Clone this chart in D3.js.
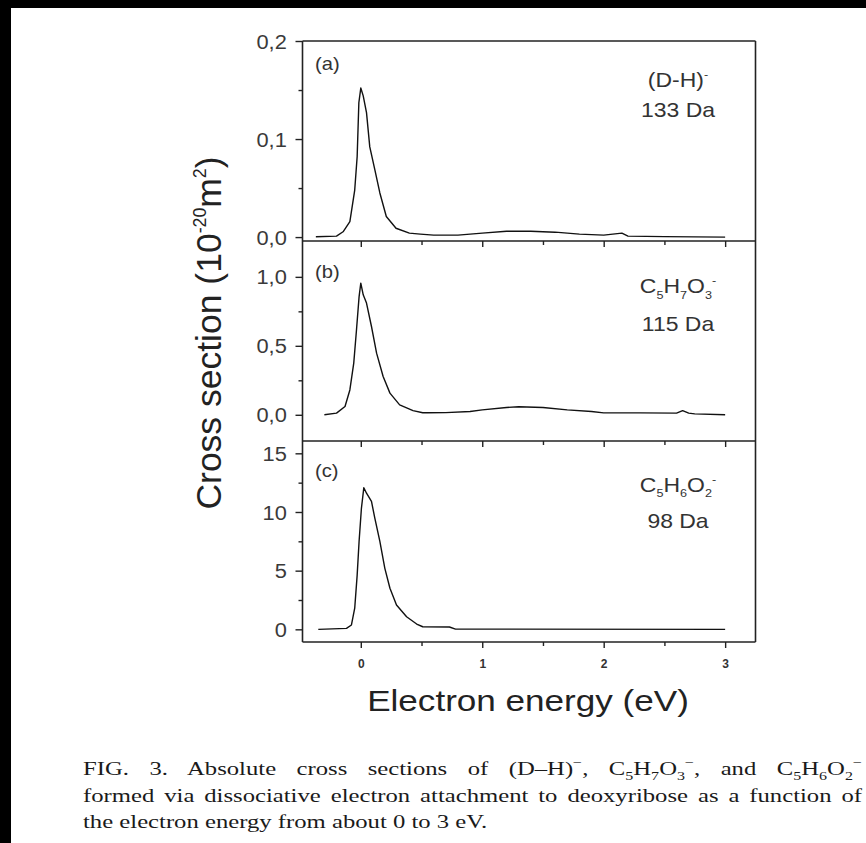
<!DOCTYPE html>
<html>
<head>
<meta charset="utf-8">
<script src="https://cdn.jsdelivr.net/npm/d3@7/dist/d3.min.js"></script>
<style>
  html, body { margin: 0; padding: 0; background: #fff; }
  svg { display: block; }
</style>
</head>
<body>
<svg id="fig" width="866" height="843"></svg>
<script>
// ---- Data: absolute DEA cross sections vs electron energy (eV) ----
// (a) (D-H)-, 133 Da  [10^-20 m^2]
const energyA = [-0.37, -0.2, -0.146, -0.09, -0.05, -0.03, -0.016, 0, 0.02, 0.047, 0.074, 0.115, 0.157, 0.21, 0.29, 0.40, 0.49, 0.6, 0.8, 1.0, 1.2, 1.4, 1.6, 1.8, 2.0, 2.15, 2.2, 2.5, 3.0];
const crossA  = [0.0003, 0.001, 0.0054, 0.0157, 0.048, 0.082, 0.137, 0.152, 0.144, 0.127, 0.092, 0.069, 0.045, 0.021, 0.009, 0.004, 0.003, 0.002, 0.002, 0.004, 0.006, 0.006, 0.005, 0.003, 0.002, 0.004, 0.001, 0.0005, 0];
// (b) C5H7O3-, 115 Da
const energyB = [-0.30, -0.2, -0.13, -0.09, -0.058, -0.035, -0.014, 0, 0.02, 0.047, 0.088, 0.13, 0.184, 0.24, 0.32, 0.43, 0.51, 0.55, 0.7, 0.9, 1.0, 1.2, 1.3, 1.5, 1.7, 1.9, 2.0, 2.3, 2.6, 2.65, 2.7, 2.75, 3.0];
const crossB  = [0, 0.012, 0.06, 0.18, 0.375, 0.62, 0.857, 0.954, 0.87, 0.81, 0.64, 0.447, 0.278, 0.157, 0.072, 0.03, 0.015, 0.015, 0.016, 0.024, 0.036, 0.053, 0.058, 0.053, 0.036, 0.024, 0.014, 0.014, 0.012, 0.03, 0.012, 0.007, 0];
// (c) C5H6O2-, 98 Da
const energyC = [-0.35, -0.118, -0.077, -0.05, -0.03, -0.014, 0.005, 0.025, 0.047, 0.088, 0.115, 0.157, 0.198, 0.24, 0.294, 0.377, 0.46, 0.51, 0.73, 0.78, 3.0];
const crossC  = [0, 0.08, 0.37, 1.8, 4.6, 7.5, 10.3, 12.07, 11.6, 10.9, 9.5, 7.5, 5.2, 3.5, 2.07, 1.07, 0.45, 0.22, 0.2, 0.02, 0];

// Axis ticks
const xMajorTicks = [0, 1, 2, 3];
const xMinorTicks = [0.5, 1.5, 2.5];
const yMajorA = [0, 0.1, 0.2], yMinorA = [0.05, 0.15], yLabelsA = ["0,0", "0,1", "0,2"];
const yMajorB = [0, 0.5, 1.0], yMinorB = [0.25, 0.75], yLabelsB = ["0,0", "0,5", "1,0"];
const yMajorC = [0, 5, 10, 15], yMinorC = [2.5, 7.5, 12.5], yLabelsC = ["0", "5", "10", "15"];

// ---- Layout ----
const svg = d3.select("#fig");
const W = 866, H = 843;
const left = 302.5, right = 755.5;
const SX = 1.12; // horizontal glyph stretch of the figure lettering
const SANS = "'Liberation Sans', Arial, Helvetica, sans-serif";
const SERIF = "'Liberation Serif', 'Times New Roman', Times, serif";

svg.append("rect").attr("width", W).attr("height", H).attr("fill", "#fff");
svg.append("rect").attr("x", 0).attr("y", 0).attr("width", W).attr("height", 8).attr("fill", "#000");
svg.append("rect").attr("x", 0).attr("y", 0).attr("width", 11).attr("height", H).attr("fill", "#000");

const x = d3.scaleLinear().domain([-0.48, 3.25]).range([left, right]);

const panels = [
  { top: 41,  bottom: 241, domain: [-0.004, 0.2],  energy: energyA, cross: crossA, major: yMajorA, minor: yMinorA, labels: yLabelsA,
    tag: "(a)", tagY: 28.5, line1: [["(D-H)"], ["-", "sup"]], line2: "133 Da", l1: 45.5, l2: 76 },
  { top: 241, bottom: 441, domain: [-0.19, 1.26],  energy: energyB, cross: crossB, major: yMajorB, minor: yMinorB, labels: yLabelsB,
    tag: "(b)", tagY: 36.5, line1: [["C"], ["5", "sub"], ["H"], ["7", "sub"], ["O"], ["3", "sub"], ["-", "sup"]], line2: "115 Da", l1: 52, l2: 90 },
  { top: 441, bottom: 642, domain: [-1.08, 16.05], energy: energyC, cross: crossC, major: yMajorC, minor: yMinorC, labels: yLabelsC,
    tag: "(c)", tagY: 35.5, line1: [["C"], ["5", "sub"], ["H"], ["6", "sub"], ["O"], ["2", "sub"], ["-", "sup"]], line2: "98 Da", l1: 50.5, l2: 87 }
];

// Text with sub/superscript runs
function richText(parent, tx, ty, parts, o) {
  const t = parent.append("text")
    .attr("transform", `translate(${tx},${ty}) scale(${o.sx || 1},1)${o.rotate ? " rotate(" + o.rotate + ")" : ""}`)
    .attr("font-family", o.family || SANS)
    .attr("font-size", o.size)
    .attr("text-anchor", o.anchor || "start")
    .attr("fill", o.fill || "#222");
  let shift = 0;
  parts.forEach(p => {
    const s = p[0], kind = p[1];
    const target = kind === "sub" ? o.size * 0.28 : kind === "sup" ? -o.size * 0.42 : 0;
    t.append("tspan")
      .attr("dy", target - shift)
      .attr("font-size", kind ? o.size * (o.scriptScale || 0.6) : o.size)
      .text(s);
    shift = target;
  });
  return t;
}

const line = d3.line().curve(d3.curveLinear);

panels.forEach((p, i) => {
  const y = d3.scaleLinear().domain(p.domain).range([p.bottom, p.top]);
  const g = svg.append("g");

  // y axis: labelled major ticks + minor ticks
  const yAxis = g.append("g").attr("transform", `translate(${left},0)`)
    .call(d3.axisLeft(y).tickValues(p.major).tickSizeInner(7).tickSizeOuter(0).tickPadding(7)
      .tickFormat((d, k) => p.labels[k]));
  yAxis.select(".domain").remove();
  yAxis.selectAll("line").attr("stroke", "#222").attr("stroke-width", 1.4);
  yAxis.selectAll("text")
    .attr("font-family", SANS).attr("font-size", 19.5).attr("fill", "#3a3a3a")
    .attr("dy", "0.36em")
    .attr("transform", `scale(${SX},1)`);
  const yMinor = g.append("g").attr("transform", `translate(${left},0)`)
    .call(d3.axisLeft(y).tickValues(p.minor).tickSizeInner(4).tickSizeOuter(0).tickFormat(""));
  yMinor.select(".domain").remove();
  yMinor.selectAll("line").attr("stroke", "#222").attr("stroke-width", 1.4);

  // x axis at the bottom of each panel, ticks pointing outward
  const last = i === panels.length - 1;
  const xAxis = g.append("g").attr("transform", `translate(0,${p.bottom})`)
    .call(d3.axisBottom(x).tickValues(xMajorTicks).tickSizeInner(6).tickSizeOuter(0).tickPadding(11)
      .tickFormat(last ? d3.format("d") : ""));
  xAxis.select(".domain").remove();
  xAxis.selectAll("line").attr("stroke", "#222").attr("stroke-width", 1.4);
  xAxis.selectAll("text")
    .attr("font-family", SANS).attr("font-size", 12).attr("font-weight", "bold").attr("fill", "#333");
  const xMinor = g.append("g").attr("transform", `translate(0,${p.bottom})`)
    .call(d3.axisBottom(x).tickValues(xMinorTicks).tickSizeInner(4).tickSizeOuter(0).tickFormat(""));
  xMinor.select(".domain").remove();
  xMinor.selectAll("line").attr("stroke", "#222").attr("stroke-width", 1.4);

  // curve
  const pts = p.energy.map((e, k) => [x(e), y(p.cross[k])]);
  g.append("path").attr("d", line(pts))
    .attr("fill", "none").attr("stroke", "#111").attr("stroke-width", 1.4).attr("stroke-linejoin", "round");

  // panel tag and species labels
  richText(g, 315, p.top + p.tagY, [[p.tag]], { size: 18, sx: SX, fill: "#333" });
  richText(g, 678, p.top + p.l1, p.line1, { size: 20.5, sx: SX, anchor: "middle", fill: "#333", scriptScale: 0.55 });
  richText(g, 678, p.top + p.l2, [[p.line2]], { size: 20.5, sx: SX, anchor: "middle", fill: "#333" });

  // panel divider / bottom frame line
  g.append("line").attr("x1", left).attr("x2", right).attr("y1", p.bottom).attr("y2", p.bottom)
    .attr("stroke", "#222").attr("stroke-width", 1.6);
});

// outer frame: top, left and right edges
const frame = svg.append("g").attr("stroke", "#222").attr("stroke-width", 1.6).attr("fill", "none");
frame.append("line").attr("x1", left).attr("x2", right).attr("y1", 41).attr("y2", 41);
frame.append("line").attr("x1", left).attr("x2", left).attr("y1", 41).attr("y2", 642);
frame.append("line").attr("x1", right).attr("x2", right).attr("y1", 41).attr("y2", 642);

// axis titles
richText(svg, 528, 711, [["Electron energy (eV)"]], { size: 30, sx: 1.17, anchor: "middle", fill: "#222" });
richText(svg, 221, 333, [["Cross section (10"], ["-20", "sup"], ["m"], ["2", "sup"], [")"]],
  { size: 35.5, anchor: "middle", fill: "#222", rotate: -90, scriptScale: 0.5 });

// caption, justified on the first two lines
const captionLines = [
  [["FIG. 3. Absolute cross sections of (D\u2013H)"], ["\u2212", "sup"], [", C"], ["5", "sub"], ["H"], ["7", "sub"], ["O"], ["3", "sub"], ["\u2212", "sup"],
   [", and C"], ["5", "sub"], ["H"], ["6", "sub"], ["O"], ["2", "sub"], ["\u2212", "sup"]],
  [["formed via dissociative electron attachment to deoxyribose as a function of"]],
  [["the electron energy from about 0 to 3 eV."]]
];
const capX = 83, capY = [775, 802, 828], capW = 779, capSX = 1.3;
captionLines.forEach((parts, k) => {
  const t = richText(svg, capX, capY[k], parts, { size: 19, sx: capSX, family: SERIF, fill: "#1a1a1a", scriptScale: 0.65 });
  if (k < 2) {
    const natural = t.node().getComputedTextLength();
    const spaces = parts.map(p => p[0]).join("").split(" ").length - 1;
    const extra = (capW / capSX - natural) / spaces;
    t.attr("word-spacing", extra);
  }
});
</script>
</body>
</html>
